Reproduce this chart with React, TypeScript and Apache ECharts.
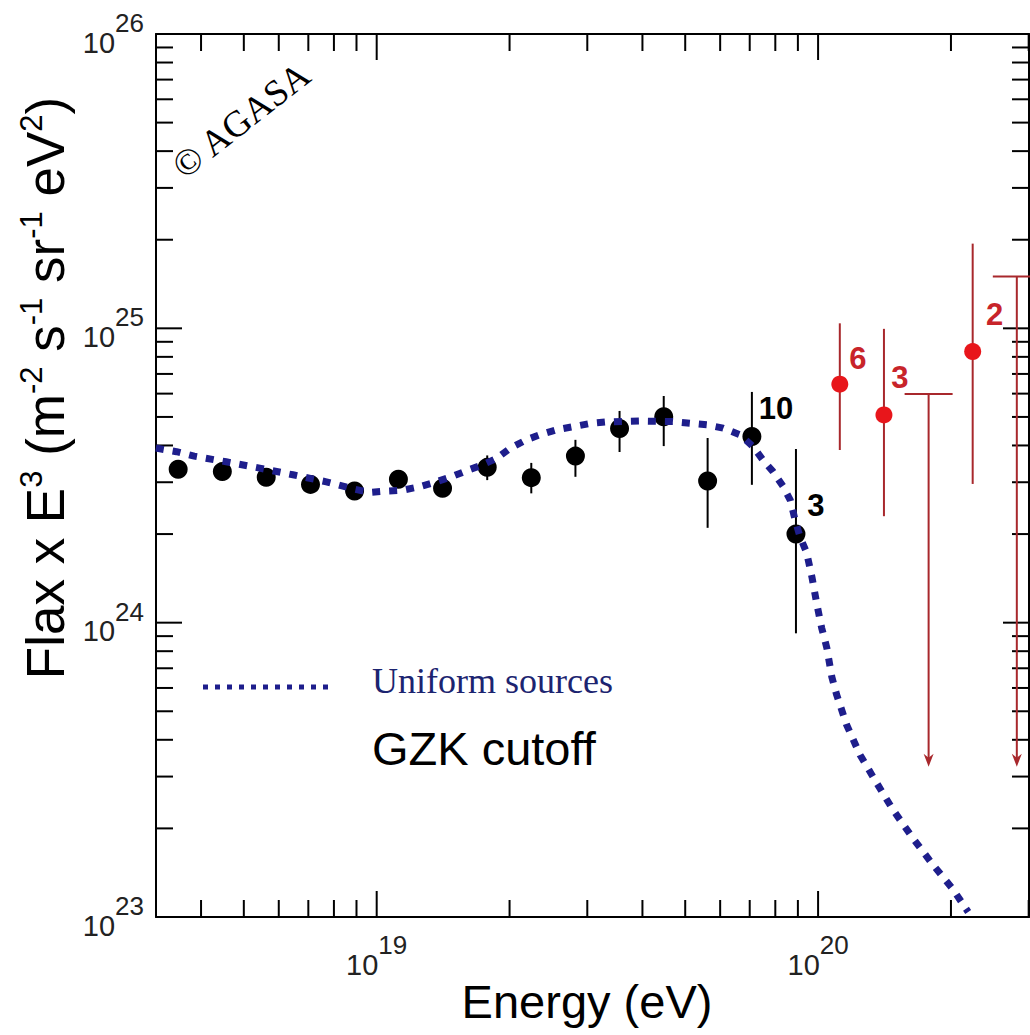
import React, { useEffect, useRef } from "react";
import * as echarts from "echarts";

// ---------- data ----------
const blackEnergy = [3.55e18, 4.47e18, 5.62e18, 7.08e18, 8.91e18, 1.12e19, 1.41e19, 1.78e19, 2.24e19, 2.82e19, 3.55e19, 4.47e19, 5.62e19, 7.08e19, 8.91e19];
const blackFlux = [3.32e24, 3.26e24, 3.12e24, 2.95e24, 2.8e24, 3.07e24, 2.86e24, 3.37e24, 3.11e24, 3.68e24, 4.57e24, 5.01e24, 3.03e24, 4.29e24, 2.0e24];
const blackLow = [3.2e24, 3.14e24, 2.96e24, 2.83e24, 2.69e24, 2.92e24, 2.68e24, 3.05e24, 2.75e24, 3.13e24, 3.8e24, 3.98e24, 2.1e24, 2.94e24, 9.2e23];
const blackHigh = [3.44e24, 3.38e24, 3.27e24, 3.07e24, 2.92e24, 3.22e24, 3.05e24, 3.7e24, 3.49e24, 4.18e24, 5.24e24, 5.89e24, 4.24e24, 6.08e24, 3.89e24];
const blackEvents = ["", "", "", "", "", "", "", "", "", "", "", "", "", "10", "3"];

const redEnergy = [1.12e20, 1.41e20, 2.24e20];
const redFlux = [6.46e24, 5.08e24, 8.34e24];
const redLow = [3.86e24, 2.3e24, 2.96e24];
const redHigh = [1.04e25, 9.96e24, 1.94e25];
const redEvents = ["6", "3", "2"];

const limitEnergy = [1.78e20, 2.82e20];
const limitFlux = [5.98e24, 1.5e25];
const limitArrowEnd = [3.24e23, 3.24e23];

const curveEnergy = [
  3.16e18, 3.52e18, 3.86e18, 4.56e18, 5.43e18, 6.46e18, 7.69e18, 8.91e18, 9.64e18, 1.052e19,
  1.146e19, 1.253e19, 1.365e19, 1.476e19, 1.596e19, 1.738e19, 1.866e19, 2.004e19, 2.183e19, 2.344e19,
  2.553e19, 2.78e19, 3.041e19, 3.319e19, 3.945e19, 4.688e19, 5.129e19, 5.598e19, 6.095e19, 6.653e19,
  7.129e19, 7.499e19, 7.907e19, 8.337e19, 8.65e19, 8.872e19, 9.099e19, 9.419e19, 9.683e19, 9.931e19,
  1.019e20, 1.047e20, 1.074e20, 1.102e20, 1.161e20, 1.245e20, 1.358e20, 1.479e20, 1.641e20, 1.824e20,
  2.023e20, 2.188e20,
];
const curveFlux = [
  3.92e24, 3.81e24, 3.68e24, 3.52e24, 3.35e24, 3.18e24, 3.01e24, 2.84e24, 2.77e24, 2.8e24,
  2.82e24, 2.9e24, 3.01e24, 3.13e24, 3.28e24, 3.44e24, 3.61e24, 3.91e24, 4.18e24, 4.35e24,
  4.52e24, 4.63e24, 4.75e24, 4.81e24, 4.84e24, 4.82e24, 4.76e24, 4.7e24, 4.58e24, 4.35e24,
  3.96e24, 3.57e24, 3.26e24, 2.9e24, 2.61e24, 2.23e24, 1.96e24, 1.73e24, 1.43e24, 1.16e24,
  9.59e23, 8.2e23, 6.55e23, 5.68e23, 4.49e23, 3.55e23, 2.85e23, 2.31e23, 1.85e23, 1.5e23,
  1.24e23, 1.04e23,
];

const X_MIN = 3.1623e18;
const X_MAX = 3.005e20;
const Y_MIN = 1e23;
const Y_MAX = 1e26;

const xLabelValues = [1e19, 1e20];
const yLabelValues = [1e23, 1e24, 1e25, 0.99999e26];
const xMajorTicks = [1e19, 1e20];
const xMinorTicks = [4e18, 5e18, 6e18, 7e18, 8e18, 9e18, 2e19, 3e19, 4e19, 5e19, 6e19, 7e19, 8e19, 9e19, 2e20, 3e20];
const yMajorTicks = [1e24, 1e25];
const yMinorTicks = [
  2e23, 3e23, 4e23, 5e23, 6e23, 7e23, 8e23, 9e23,
  2e24, 3e24, 4e24, 5e24, 6e24, 7e24, 8e24, 9e24,
  2e25, 3e25, 4e25, 5e25, 6e25, 7e25, 8e25, 9e25,
];

// ---------- styling ----------
const SANS = "'Liberation Sans', Arial, Helvetica, sans-serif";
const SERIF = "'Liberation Serif', 'Times New Roman', serif";
const CURVE_COLOR = "#1e1e8c";
const RED = "#e8161b";
const RED_LINE = "#a8282c";
const RED_TEXT = "#c8242a";

const blackLabelOffsets: Record<number, [number, number]> = { 13: [24, -28], 14: [20, -29] };
const redLabelOffsets: [number, number][] = [[18, -26], [16, -37], [22, -37]];

const powLabel = (v: number) => `{b|10}{s|${Math.round(Math.log10(v))}}`;
const labelRich = {
  b: { fontSize: 29, fontFamily: SANS, color: "#222", lineHeight: 30, padding: [18, 0, 0, 0], verticalAlign: "top" },
  s: { fontSize: 26, fontFamily: SANS, color: "#222", lineHeight: 24, verticalAlign: "top" },
};

function buildOption(): any {
  const baseAxis = {
    type: "log",
    logBase: 10,
    axisLine: { show: true, onZero: false, lineStyle: { color: "#000", width: 2 } },
    axisTick: { show: false },
    splitLine: { show: false },
    minorTick: { show: false },
  };

  const tickStyle = { stroke: "#000", lineWidth: 2 };

  const xTickSeries = {
    type: "custom",
    coordinateSystem: "cartesian2d",
    silent: true,
    z: 3,
    encode: { x: 0, y: 1 },
    data: [...xMinorTicks.map((v) => [v, Y_MIN, 0]), ...xMajorTicks.map((v) => [v, Y_MIN, 1])],
    renderItem: (params: any, api: any) => {
      const cs = params.coordSys;
      const px = api.coord([api.value(0), api.value(1)])[0];
      const len = api.value(2) ? 26 : 17;
      const top = cs.y;
      const bottom = cs.y + cs.height;
      return {
        type: "group",
        children: [
          { type: "line", shape: { x1: px, y1: bottom, x2: px, y2: bottom - len }, style: tickStyle },
          { type: "line", shape: { x1: px, y1: top, x2: px, y2: top + len }, style: tickStyle },
        ],
      };
    },
  };

  const yTickSeries = {
    type: "custom",
    coordinateSystem: "cartesian2d",
    silent: true,
    z: 3,
    encode: { x: 0, y: 1 },
    data: [...yMinorTicks.map((v) => [1e19, v, 0]), ...yMajorTicks.map((v) => [1e19, v, 1])],
    renderItem: (params: any, api: any) => {
      const cs = params.coordSys;
      const py = api.coord([api.value(0), api.value(1)])[1];
      const len = api.value(2) ? 26 : 17;
      const left = cs.x;
      const right = cs.x + cs.width;
      return {
        type: "group",
        children: [
          { type: "line", shape: { x1: left, y1: py, x2: left + len, y2: py }, style: tickStyle },
          { type: "line", shape: { x1: right, y1: py, x2: right - len, y2: py }, style: tickStyle },
        ],
      };
    },
  };

  const errorBarSeries = (energy: number[], low: number[], high: number[], color: string) => ({
    type: "custom",
    coordinateSystem: "cartesian2d",
    silent: true,
    z: 4,
    encode: { x: 0, y: [1, 2] },
    data: energy.map((e, i) => [e, low[i], high[i]]),
    renderItem: (_p: any, api: any) => {
      const x = api.value(0);
      const a = api.coord([x, api.value(1)]);
      const b = api.coord([x, api.value(2)]);
      return {
        type: "line",
        shape: { x1: a[0], y1: a[1], x2: b[0], y2: b[1] },
        style: { stroke: color, lineWidth: 2 },
      };
    },
  });

  const limitSeries = {
    type: "custom",
    coordinateSystem: "cartesian2d",
    silent: true,
    z: 4,
    clip: false,
    encode: { x: 0, y: [1, 2] },
    data: limitEnergy.map((e, i) => [e, limitFlux[i], limitArrowEnd[i]]),
    renderItem: (_p: any, api: any) => {
      const x = api.value(0);
      const p = api.coord([x, api.value(1)]);
      const t = api.coord([x, api.value(2)]);
      const st = { stroke: RED_LINE, lineWidth: 2 };
      return {
        type: "group",
        children: [
          { type: "line", shape: { x1: p[0] - 24, y1: p[1], x2: p[0] + 24, y2: p[1] }, style: st },
          { type: "line", shape: { x1: p[0], y1: p[1], x2: p[0], y2: t[1] - 6 }, style: st },
          {
            type: "polygon",
            shape: { points: [[t[0], t[1]], [t[0] - 5, t[1] - 13], [t[0], t[1] - 9], [t[0] + 5, t[1] - 13]] },
            style: { fill: RED_LINE },
          },
        ],
      };
    },
  };

  const blackData = blackEnergy.map((e, i) => {
    const off = blackLabelOffsets[i];
    return {
      value: [e, blackFlux[i]],
      label: off
        ? { show: true, position: "inside", offset: off, formatter: blackEvents[i] }
        : { show: false },
    };
  });
  const redData = redEnergy.map((e, i) => ({
    value: [e, redFlux[i]],
    label: { show: true, position: "inside", offset: redLabelOffsets[i], formatter: redEvents[i] },
  }));

  return {
    animation: false,
    backgroundColor: "#ffffff",
    textStyle: { fontFamily: SANS },
    grid: { left: 156, top: 34, width: 873, height: 883, containLabel: false },
    xAxis: [
      {
        ...baseAxis,
        position: "bottom",
        min: X_MIN,
        max: X_MAX,
        axisLabel: {
          show: true,
          customValues: xLabelValues,
          formatter: powLabel,
          rich: labelRich,
          margin: 15,
        },
      },
      { ...baseAxis, position: "top", min: X_MIN, max: X_MAX, axisLabel: { show: false } },
    ],
    yAxis: [
      {
        ...baseAxis,
        position: "left",
        min: Y_MIN,
        max: Y_MAX,
        axisLabel: {
          show: true,
          customValues: yLabelValues,
          formatter: powLabel,
          rich: labelRich,
          padding: [0, 0, 18, 0],
          margin: 12,
        },
      },
      { ...baseAxis, position: "right", min: Y_MIN, max: Y_MAX, axisLabel: { show: false } },
    ],
    series: [
      xTickSeries,
      yTickSeries,
      errorBarSeries(blackEnergy, blackLow, blackHigh, "#000"),
      errorBarSeries(redEnergy, redLow, redHigh, RED_LINE),
      limitSeries,
      {
        type: "scatter",
        name: "AGASA",
        z: 5,
        symbol: "circle",
        symbolSize: 19,
        itemStyle: { color: "#000", opacity: 1 },
        label: { fontSize: 31, fontWeight: "bold", color: "#000", fontFamily: SANS, opacity: 1 },
        data: blackData,
      },
      {
        type: "scatter",
        name: "AGASA high",
        z: 5,
        symbol: "circle",
        symbolSize: 17,
        itemStyle: { color: RED, opacity: 1 },
        label: { fontSize: 31, fontWeight: "bold", color: RED_TEXT, fontFamily: SANS, opacity: 1 },
        data: redData,
      },
      {
        type: "line",
        name: "Uniform sources",
        z: 6,
        symbol: "none",
        smooth: false,
        lineStyle: { color: CURVE_COLOR, width: 7, type: [8, 9], cap: "butt" },
        data: curveEnergy.map((e, i) => [e, curveFlux[i]]),
      },
    ],
    graphic: [
      {
        type: "text",
        x: 44,
        y: 388,
        rotation: Math.PI / 2,
        style: {
          text: "{b|Flax x E}{s|3}{b| (m}{s|-2}{b| s}{s|-1}{b| sr}{s|-1}{b| eV}{s|2}{b|)}",
          align: "center",
          verticalAlign: "middle",
          fill: "#000",
          rich: {
            b: { fontSize: 53, fontFamily: SANS, fill: "#000", lineHeight: 56, verticalAlign: "bottom" },
            s: { fontSize: 31, fontFamily: SANS, fill: "#000", lineHeight: 34, verticalAlign: "top" },
          },
        },
      },
      {
        type: "text",
        x: 587,
        y: 1001,
        style: { text: "Energy (eV)", fontSize: 47, fontFamily: SANS, fill: "#000", align: "center", verticalAlign: "middle" },
      },
      {
        type: "line",
        shape: { x1: 203, y1: 687, x2: 334, y2: 687 },
        style: { stroke: CURVE_COLOR, lineWidth: 5, lineDash: [5, 7] },
      },
      {
        type: "text",
        x: 372,
        y: 681,
        style: { text: "Uniform sources", fontSize: 36, fontFamily: SERIF, fill: "#1c2470", align: "left", verticalAlign: "middle" },
      },
      {
        type: "text",
        x: 372,
        y: 748,
        style: { text: "GZK cutoff", fontSize: 47, fontFamily: SANS, fill: "#000", align: "left", verticalAlign: "middle" },
      },
      {
        type: "text",
        x: 241,
        y: 120,
        rotation: (38 * Math.PI) / 180,
        style: { text: "© AGASA", fontSize: 37, fontFamily: SERIF, fill: "#000", align: "center", verticalAlign: "middle" },
      },
    ],
  };
}

export default function App() {
  const ref = useRef<HTMLDivElement>(null);
  useEffect(() => {
    if (!ref.current) return;
    const chart = echarts.init(ref.current, null, { renderer: "svg" });
    chart.setOption(buildOption());
    return () => chart.dispose();
  }, []);
  return (
    <div
      ref={ref}
      style={{ position: "absolute", left: 0, top: 0, width: 1030, height: 1035, background: "#fff" }}
    />
  );
}
